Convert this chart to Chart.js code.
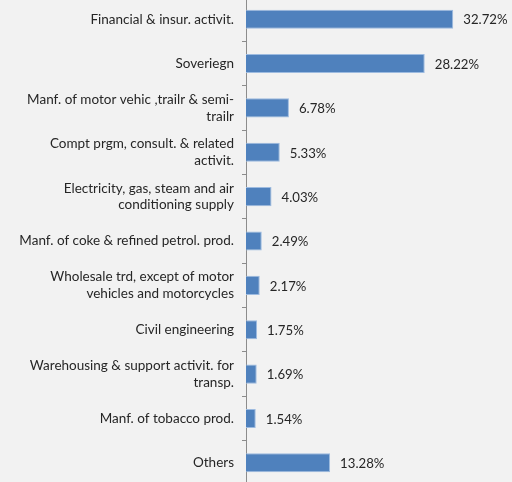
<!DOCTYPE html>
<html>
<head>
<meta charset="utf-8">
<script src="https://cdn.jsdelivr.net/npm/chart.js@4"></script>
<style>
  html, body { margin: 0; padding: 0; background: #f2f2f2; overflow: hidden; }
  #wrap { position: absolute; left: 0; top: -3px; width: 512px; height: 488px; }
</style>
</head>
<body>
<div id="wrap"><canvas id="c"></canvas></div>
<script>
// Sector breakdown (share of total, %)
const sectors = [
  "Financial & insur. activit.",
  "Soveriegn",
  ["Manf. of motor vehic ,trailr & semi-", "trailr"],
  ["Compt prgm, consult. & related", "activit."],
  ["Electricity, gas, steam and air", "conditioning supply"],
  "Manf. of coke & refined petrol. prod.",
  ["Wholesale trd, except of motor", "vehicles and motorcycles"],
  "Civil engineering",
  ["Warehousing & support activit. for", "transp."],
  "Manf. of tobacco prod.",
  "Others"
];
const shares = [32.72, 28.22, 6.78, 5.33, 4.03, 2.49, 2.17, 1.75, 1.69, 1.54, 13.28];

const FONT = "Lato, 'Noto Sans', sans-serif";
const TEXT = "#262626";

// Writes each bar's value just past its end
const valueLabels = {
  id: "valueLabels",
  afterDatasetsDraw(chart) {
    const ctx = chart.ctx;
    const meta = chart.getDatasetMeta(0);
    ctx.save();
    ctx.font = "13.2px " + FONT;
    ctx.fillStyle = TEXT;
    ctx.textAlign = "left";
    ctx.textBaseline = "middle";
    meta.data.forEach((bar, i) => {
      ctx.fillText(shares[i].toFixed(2) + "%", bar.x + 10, bar.y + 1);
    });
    ctx.restore();
  }
};

new Chart(document.getElementById("c"), {
  type: "bar",
  data: {
    labels: sectors,
    datasets: [{
      data: shares,
      backgroundColor: "#4f81bd",
      borderColor: "#9dbbe0",
      borderWidth: 1,
      borderSkipped: "left",
      barPercentage: 0.43,
      categoryPercentage: 1.0
    }]
  },
  options: {
    indexAxis: "y",
    responsive: true,
    maintainAspectRatio: false,
    animation: false,
    layout: { padding: 0 },
    plugins: {
      legend: { display: false },
      tooltip: { enabled: false }
    },
    scales: {
      x: {
        display: false,
        min: 0,
        max: 42
      },
      y: {
        afterFit(scale) {
          scale.width = 246;
          scale.paddingTop = 0;
          scale.paddingBottom = 0;
        },
        border: { display: true, color: "#8c8c8c", width: 1 },
        grid: {
          offset: true,
          drawOnChartArea: false,
          drawTicks: true,
          tickLength: 4,
          color: "#8c8c8c"
        },
        ticks: {
          padding: 8,
          color: TEXT,
          font: { family: FONT, size: 13.5, lineHeight: 1.22 }
        }
      }
    }
  },
  plugins: [valueLabels]
});
</script>
</body>
</html>
